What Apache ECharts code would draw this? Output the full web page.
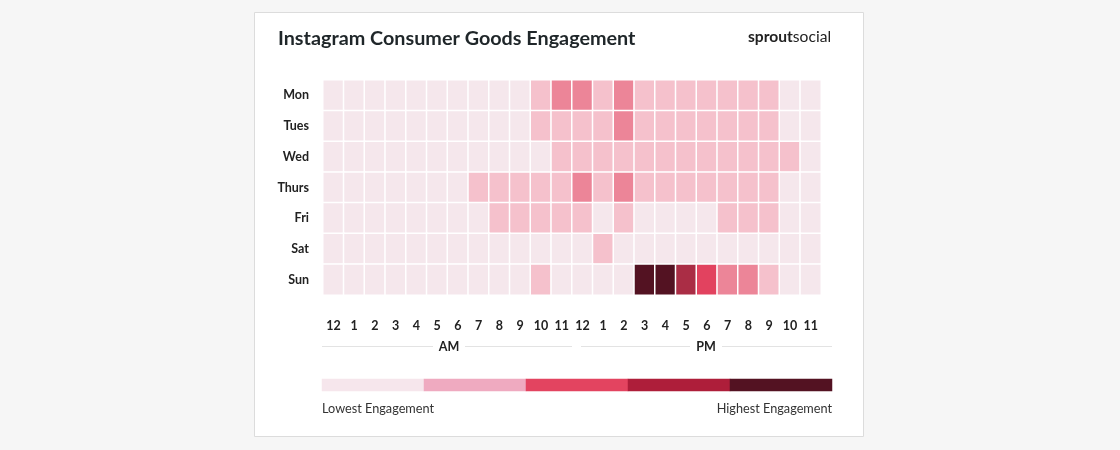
<!DOCTYPE html>
<html>
<head>
<meta charset="utf-8">
<script src="https://cdn.jsdelivr.net/npm/echarts@6/dist/echarts.min.js"></script>
<style>
  html, body { margin: 0; padding: 0; background: #f6f6f6; }
  #chart { width: 1120px; height: 450px; }
</style>
</head>
<body>
<div id="chart"></div>
<script>
// ---- data ----
const hours = ['12','1','2','3','4','5','6','7','8','9','10','11','12','1','2','3','4','5','6','7','8','9','10','11'];
const days = ['Mon','Tues','Wed','Thurs','Fri','Sat','Sun'];
// engagement level 1 (lowest) .. 6 (highest) per hour (12AM .. 11PM)
const mon   = [1,1,1,1,1,1,1,1,1,1,2,3,3,2,3,2,2,2,2,2,2,2,1,1];
const tues  = [1,1,1,1,1,1,1,1,1,1,2,2,2,2,3,2,2,2,2,2,2,2,1,1];
const wed   = [1,1,1,1,1,1,1,1,1,1,1,2,2,2,2,2,2,2,2,2,2,2,2,1];
const thurs = [1,1,1,1,1,1,1,2,2,2,2,2,3,2,3,2,2,2,2,2,2,2,1,1];
const fri   = [1,1,1,1,1,1,1,1,2,2,2,2,2,1,2,1,1,1,1,2,2,2,1,1];
const sat   = [1,1,1,1,1,1,1,1,1,1,1,1,1,2,1,1,1,1,1,1,1,1,1,1];
const sun   = [1,1,1,1,1,1,1,1,1,1,2,1,1,1,1,6,6,5,4,3,3,2,1,1];
const levelColors = ['#f5e7ec','#f5c1cc','#ec8598','#e2425f','#aa2d45','#531222'];
const legendColors = ['#f6e6ec','#efaac0','#e34460','#ae1e3a','#531222'];
const ampm = ['AM','PM'];

const rows = [mon, tues, wed, thurs, fri, sat, sun];
const heatData = [];
rows.forEach((r, yi) => r.forEach((v, xi) => heatData.push([xi, yi, v])));
const legendData = legendColors.map((c, i) => ({ value: [i, 0, 1], itemStyle: { color: c } }));

const chart = echarts.init(document.getElementById('chart'), null, { renderer: 'canvas' });
const FONT = 'Lato, "Noto Sans", sans-serif';

chart.setOption({
  backgroundColor: '#f6f6f6',
  animation: false,
  textStyle: { fontFamily: FONT },
  grid: [
    { left: 323, right: 299, top: 80, height: 215 },
    { left: 322, right: 288, top: 379, height: 12 }
  ],
  xAxis: [
    {
      type: 'category', data: hours, gridIndex: 0,
      axisLine: { show: false }, axisTick: { show: false }, splitLine: { show: false },
      axisLabel: { margin: 24, fontWeight: 'bold', fontSize: 12.5, color: '#222', fontFamily: FONT }
    },
    {
      type: 'category', data: legendColors.map((c, i) => i), gridIndex: 1,
      show: false
    }
  ],
  yAxis: [
    {
      type: 'category', data: days, inverse: true, gridIndex: 0,
      axisLine: { show: false }, axisTick: { show: false }, splitLine: { show: false },
      axisLabel: { margin: 14, fontWeight: 'bold', fontSize: 12.5, color: '#222', fontFamily: FONT }
    },
    { type: 'category', data: ['x'], gridIndex: 1, show: false }
  ],
  visualMap: {
    show: false, type: 'piecewise', seriesIndex: 0, dimension: 2,
    pieces: levelColors.map((c, i) => ({ value: i + 1, color: c }))
  },
  series: [
    {
      type: 'heatmap', xAxisIndex: 0, yAxisIndex: 0, data: heatData,
      itemStyle: { borderColor: '#ffffff', borderWidth: 1.5 },
      emphasis: { disabled: true }
    },
    {
      type: 'heatmap', xAxisIndex: 1, yAxisIndex: 1, data: legendData,
      itemStyle: { borderWidth: 0 },
      emphasis: { disabled: true }
    }
  ],
  graphic: [
    {
      type: 'rect', z: -10, silent: true,
      shape: { x: 254.5, y: 12.5, width: 609, height: 424 },
      style: { fill: '#ffffff', stroke: '#dcdcdc', lineWidth: 1 }
    },
    {
      type: 'text', left: 278, top: 29,
      style: { text: 'Instagram Consumer Goods Engagement', font: 'bold 19.8px ' + FONT, fill: '#1f2629' }
    },
    {
      type: 'text', left: 748, top: 29,
      style: {
        text: '{a|sprout}{b|social}',
        rich: {
          a: { font: 'bold 15.6px ' + FONT, fill: '#222' },
          b: { font: '15.6px ' + FONT, fill: '#222' }
        }
      }
    },
    { type: 'line', silent: true, shape: { x1: 322, y1: 346.5, x2: 433, y2: 346.5 }, style: { stroke: '#e3e3e3', lineWidth: 1 } },
    { type: 'line', silent: true, shape: { x1: 465, y1: 346.5, x2: 572, y2: 346.5 }, style: { stroke: '#e3e3e3', lineWidth: 1 } },
    { type: 'line', silent: true, shape: { x1: 581, y1: 346.5, x2: 690, y2: 346.5 }, style: { stroke: '#e3e3e3', lineWidth: 1 } },
    { type: 'line', silent: true, shape: { x1: 722, y1: 346.5, x2: 832, y2: 346.5 }, style: { stroke: '#e3e3e3', lineWidth: 1 } },
    {
      type: 'text', x: 449, y: 347,
      style: { text: ampm[0], font: 'bold 12.5px ' + FONT, fill: '#222', align: 'center', verticalAlign: 'middle' }
    },
    {
      type: 'text', x: 706, y: 347,
      style: { text: ampm[1], font: 'bold 12.5px ' + FONT, fill: '#222', align: 'center', verticalAlign: 'middle' }
    },
    {
      type: 'text', x: 322, y: 409,
      style: { text: 'Lowest Engagement', font: '12.7px ' + FONT, fill: '#333', align: 'left', verticalAlign: 'middle' }
    },
    {
      type: 'text', x: 832, y: 409,
      style: { text: 'Highest Engagement', font: '12.7px ' + FONT, fill: '#333', align: 'right', verticalAlign: 'middle' }
    }
  ]
});
</script>
</body>
</html>
